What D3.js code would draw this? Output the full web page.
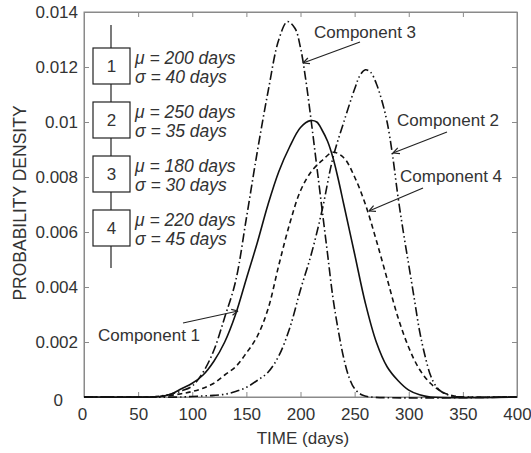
<!DOCTYPE html>
<html><head><meta charset="utf-8">
<script src="https://cdn.jsdelivr.net/npm/d3@7"></script>
<style>body{margin:0;background:#fff}svg{display:block}</style>
</head><body>
<svg id="c" width="531" height="453"></svg>
<script>
// ---- data ----
const xTicks = [0, 50, 100, 150, 200, 250, 300, 350, 400];
const yTicks = [0, 0.002, 0.004, 0.006, 0.008, 0.01, 0.012, 0.014];
const yTickLabels = ["0", "0.002", "0.004", "0.006", "0.008", "0.01", "0.012", "0.014"];

const comp1Days = [0, 60, 70, 80, 90, 100, 110, 120, 130, 140, 150, 160, 170, 180, 190, 200, 209, 215, 220, 225, 230, 235, 240, 250, 260, 270, 280, 290, 300, 310, 320, 400];
const comp1Vals = [0, 0, 0.00002, 0.0001, 0.0003, 0.0005, 0.0008, 0.0013, 0.002, 0.003, 0.0043, 0.0056, 0.0070, 0.0082, 0.0091, 0.0098, 0.01005, 0.0100, 0.0097, 0.0093, 0.0087, 0.0079, 0.0070, 0.0052, 0.0034, 0.0020, 0.0011, 0.0006, 0.00025, 0.00008, 0, 0];

const comp2Days = [0, 90, 100, 110, 120, 130, 140, 150, 160, 170, 180, 190, 200, 210, 220, 230, 240, 250, 255, 260, 265, 270, 275, 280, 285, 290, 295, 300, 305, 310, 315, 320, 325, 330, 340, 350, 400];
const comp2Vals = [0, 0, 0.00002, 0.00004, 0.00006, 0.0001, 0.0002, 0.00035, 0.0006, 0.0009, 0.0015, 0.0025, 0.0039, 0.0052, 0.0068, 0.0087, 0.0100, 0.0112, 0.0117, 0.0119, 0.0118, 0.0114, 0.0108, 0.0100, 0.0088, 0.0073, 0.0060, 0.0048, 0.0036, 0.0024, 0.0015, 0.0008, 0.0004, 0.0002, 0.00003, 0, 0];

const comp3Days = [0, 60, 70, 80, 90, 100, 110, 120, 130, 140, 150, 160, 170, 180, 188, 195, 200, 205, 210, 215, 220, 225, 230, 235, 240, 245, 250, 257, 265, 400];
const comp3Vals = [0, 0, 0.00003, 0.0001, 0.00022, 0.0004, 0.0009, 0.0017, 0.0029, 0.0042, 0.0065, 0.0089, 0.0111, 0.0130, 0.01365, 0.0134, 0.0127, 0.0115, 0.0100, 0.0084, 0.0068, 0.0052, 0.0036, 0.0024, 0.0014, 0.0007, 0.0003, 0.00007, 0, 0];

const comp4Days = [0, 60, 70, 80, 90, 100, 110, 120, 130, 140, 150, 160, 170, 180, 190, 200, 210, 220, 230, 240, 250, 260, 270, 280, 290, 300, 310, 320, 330, 340, 350, 400];
const comp4Vals = [0, 0, 0.00002, 0.00006, 0.00012, 0.0002, 0.00032, 0.0005, 0.0008, 0.0011, 0.0016, 0.0022, 0.0032, 0.0048, 0.0063, 0.0075, 0.0082, 0.0086, 0.0089, 0.0087, 0.0080, 0.0070, 0.0057, 0.0043, 0.0029, 0.0018, 0.0010, 0.0005, 0.0002, 0.00005, 0, 0];

const legendIds = ["1", "2", "3", "4"];
const legendMu = ["200", "250", "180", "220"];
const legendSigma = ["40", "35", "30", "45"];

const annotLabels = ["Component 3", "Component 2", "Component 4", "Component 1"];

// ---- layout ----
const svg = d3.select("#c");
const L = 84, R = 517, T = 12, B = 397;
const x = d3.scaleLinear().domain([0, 400]).range([L, R]);
const y = d3.scaleLinear().domain([0, 0.014]).range([B, T]);
const font = "'Liberation Sans', Arial, sans-serif";
const txt = "#333";
const axisCol = "#8a8a8a";
const fs = "17px";

// axes
const gx = svg.append("g").attr("transform", `translate(0,${B})`)
  .call(d3.axisBottom(x).tickValues(xTicks).tickSizeInner(-5).tickSizeOuter(0).tickPadding(11));
const gxt = svg.append("g").attr("transform", `translate(0,${T})`)
  .call(d3.axisTop(x).tickValues(xTicks).tickSizeInner(-5).tickSizeOuter(0).tickFormat(""));
const gy = svg.append("g").attr("transform", `translate(${L},0)`)
  .call(d3.axisLeft(y).tickValues(yTicks).tickSizeInner(-5).tickSizeOuter(0).tickPadding(6)
    .tickFormat((d, i) => yTickLabels[i]));
const gyr = svg.append("g").attr("transform", `translate(${R},0)`)
  .call(d3.axisRight(y).tickValues(yTicks).tickSizeInner(-5).tickSizeOuter(0).tickFormat(""));
[gx, gxt, gy, gyr].forEach(g => {
  g.selectAll("path.domain").attr("stroke", axisCol);
  g.selectAll("line").attr("stroke", axisCol);
  g.selectAll("text").attr("fill", txt).style("font-family", font).style("font-size", fs);
});
gx.selectAll("text").filter(d => d === 0).attr("dx", -2);
gy.selectAll("text").filter(d => d === 0).attr("dx", -15).attr("dy", "0.5em");

svg.append("rect").attr("x", L).attr("y", T).attr("width", R - L).attr("height", B - T)
  .attr("fill", "none").attr("stroke", axisCol).attr("stroke-width", 1);

// axis titles
svg.append("text").attr("x", 303).attr("y", 444).attr("text-anchor", "middle")
  .attr("fill", txt).style("font-family", font).style("font-size", fs).text("TIME (days)");
svg.append("text").attr("transform", `translate(26,203) rotate(-90)`).attr("text-anchor", "middle")
  .attr("fill", txt).style("font-family", font).style("font-size", "17.5px").text("PROBABILITY DENSITY");

// curves
const line = d3.line().x(d => x(d[0])).y(d => y(Math.max(0, d[1]))).curve(d3.curveCatmullRom.alpha(0.5));
const series = [
  { days: comp1Days, vals: comp1Vals, dash: null },
  { days: comp4Days, vals: comp4Vals, dash: "5,3.5" },
  { days: comp2Days, vals: comp2Vals, dash: "9,3,1.5,3,1.5,3" },
  { days: comp3Days, vals: comp3Vals, dash: "9,3,1.5,3" }
];
series.forEach(s => {
  const pts = s.days.map((d, i) => [d, s.vals[i]]);
  svg.append("path").datum(pts).attr("d", line).attr("fill", "none")
    .attr("stroke", "#111").attr("stroke-width", 1.6)
    .attr("stroke-dasharray", s.dash);
});

// legend ladder
const lx = 111;
svg.append("line").attr("x1", lx).attr("x2", lx).attr("y1", 25).attr("y2", 268)
  .attr("stroke", "#222").attr("stroke-width", 1.2);
const boxTops = [48, 102, 156, 210];
legendIds.forEach((id, i) => {
  const ty = boxTops[i];
  svg.append("rect").attr("x", 93).attr("y", ty).attr("width", 37).attr("height", 36)
    .attr("fill", "#fff").attr("stroke", "#222").attr("stroke-width", 1.2);
  svg.append("text").attr("x", 111.5).attr("y", ty + 24).attr("text-anchor", "middle")
    .attr("fill", txt).style("font-family", font).style("font-size", fs).text(id);
  svg.append("text").attr("x", 135).attr("y", ty + 16)
    .attr("fill", txt).style("font-family", font).style("font-size", "17.5px").style("font-style", "italic")
    .text(`\u03BC = ${legendMu[i]} days`);
  svg.append("text").attr("x", 135).attr("y", ty + 35)
    .attr("fill", txt).style("font-family", font).style("font-size", "17.5px").style("font-style", "italic")
    .text(`\u03C3 = ${legendSigma[i]} days`);
});

// annotations
const annPos = [
  { tx: 314, ty: 38, x1: 360, y1: 42, x2: 303, y2: 63 },
  { tx: 397, ty: 126, x1: 447, y1: 132, x2: 393, y2: 153 },
  { tx: 400, ty: 182, x1: 423, y1: 188, x2: 369, y2: 211 },
  { tx: 98, ty: 341, x1: 183, y1: 323, x2: 238, y2: 311 }
];
annotLabels.forEach((lab, i) => {
  const a = annPos[i];
  svg.append("text").attr("x", a.tx).attr("y", a.ty).attr("fill", txt)
    .style("font-family", font).style("font-size", "17px").text(lab);
  svg.append("line").attr("x1", a.x1).attr("y1", a.y1).attr("x2", a.x2).attr("y2", a.y2)
    .attr("stroke", "#222").attr("stroke-width", 1.2);
  const ang = Math.atan2(a.y2 - a.y1, a.x2 - a.x1);
  const hl = 7, hw = 0.45;
  [ang + Math.PI - hw, ang + Math.PI + hw].forEach(b => {
    svg.append("line").attr("x1", a.x2).attr("y1", a.y2)
      .attr("x2", a.x2 + hl * Math.cos(b)).attr("y2", a.y2 + hl * Math.sin(b))
      .attr("stroke", "#222").attr("stroke-width", 1.2);
  });
});
</script>
</body></html>
